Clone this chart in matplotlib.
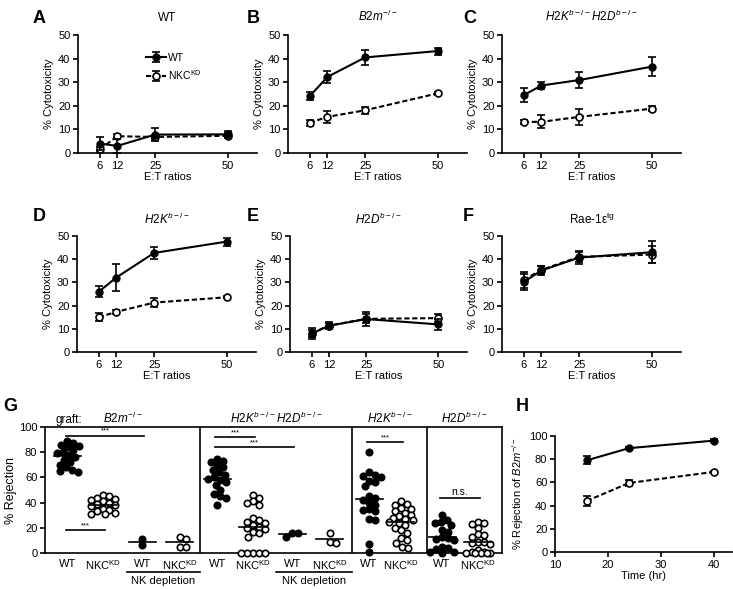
import numpy as np
import matplotlib
matplotlib.use('Agg')
import matplotlib.pyplot as plt
import matplotlib.transforms as mtransforms

plt.rcParams['font.family'] = ['Liberation Sans', 'DejaVu Sans']
plt.rcParams['mathtext.fontset'] = 'custom'
plt.rcParams['mathtext.rm'] = 'Liberation Sans'
plt.rcParams['mathtext.it'] = 'Liberation Sans:italic'
plt.rcParams['mathtext.bf'] = 'Liberation Sans:bold'
plt.rcParams['axes.linewidth'] = 1.2
plt.rcParams['xtick.major.width'] = 1.2
plt.rcParams['ytick.major.width'] = 1.2
plt.rcParams['xtick.major.size'] = 3.5
plt.rcParams['ytick.major.size'] = 3.5
plt.rcParams['xtick.labelsize'] = 8
plt.rcParams['ytick.labelsize'] = 8

# ---------- cytotoxicity data (A-F), mean +/- SEM ----------
et_ratios = [6, 12, 25, 50]

wt_a = [4.0, 3.0, 7.8, 7.9]
wt_a_err = [2.8, 3.0, 2.6, 1.6]
nkc_a = [1.6, 7.1, 6.8, 7.3]
nkc_a_err = [1.0, 0.8, 1.0, 1.0]

wt_b = [24.1, 32.2, 40.5, 43.2]
wt_b_err = [1.7, 2.7, 3.3, 1.5]
nkc_b = [12.8, 15.3, 18.1, 25.3]
nkc_b_err = [1.3, 2.5, 1.5, 0.7]

wt_c = [24.5, 28.6, 30.9, 36.6]
wt_c_err = [3.0, 1.5, 3.4, 4.0]
nkc_c = [13.2, 13.2, 15.3, 18.8]
nkc_c_err = [0.8, 2.8, 3.5, 1.2]

wt_d = [26.0, 32.1, 42.7, 47.6]
wt_d_err = [2.3, 6.0, 2.7, 1.7]
nkc_d = [15.0, 17.3, 21.3, 23.6]
nkc_d_err = [1.7, 1.0, 2.0, 0.5]

wt_e = [7.9, 11.3, 14.2, 11.9]
wt_e_err = [2.3, 1.5, 3.2, 2.3]
nkc_e = [8.0, 11.4, 14.3, 14.6]
nkc_e_err = [1.5, 1.2, 2.0, 1.8]

wt_f = [30.2, 35.1, 40.7, 43.0]
wt_f_err = [3.5, 2.0, 2.8, 4.7]
nkc_f = [31.0, 35.4, 41.0, 42.0]
nkc_f_err = [3.5, 1.5, 2.0, 3.5]

titles_af = ['WT', r'$\mathit{B2m}^{\mathit{-/-}}$',
             r'$\mathit{H2K}^{\mathit{b-/-}}\mathit{H2D}^{\mathit{b-/-}}$',
             r'$\mathit{H2K}^{\mathit{b-/-}}$', r'$\mathit{H2D}^{\mathit{b-/-}}$',
             r'Rae-1ε$^{\mathrm{tg}}$']

# ---------- in vivo rejection (G), % per mouse ----------
g_b2m_wt = [89, 87, 86, 85, 84, 82, 80, 79, 78, 76, 74, 72, 70, 68, 66, 65, 64]
g_b2m_nkc = [46, 45, 44, 43, 42, 41, 40, 39, 38, 37, 35, 34, 33, 32, 31, 31]
g_b2m_wt_nkdep = [11, 6]
g_b2m_nkc_nkdep = [13, 11, 5, 5]
g_kd_wt = [75, 73, 72, 70, 68, 66, 64, 62, 60, 59, 58, 56, 54, 50, 47, 45, 44, 38]
g_kd_nkc = [46, 44, 41, 40, 38, 28, 26, 25, 24, 22, 21, 20, 19, 17, 16, 13, 0, 0, 0, 0, 0]
g_kd_wt_nkdep = [16, 13, 16]
g_kd_nkc_nkdep = [16, 9, 8]
g_k_wt = [80, 64, 62, 61, 60, 57, 56, 53, 45, 44, 42, 40, 38, 35, 34, 33, 27, 26, 7, 1]
g_k_nkc = [41, 39, 38, 36, 35, 33, 32, 30, 29, 28, 27, 26, 25, 24, 22, 20, 18, 16, 12, 10, 8, 5, 4]
g_d_wt = [30, 26, 25, 24, 22, 18, 17, 13, 12, 11, 10, 5, 4, 3, 1, 1, 0]
g_d_nkc = [25, 24, 23, 20, 15, 14, 13, 9, 9, 8, 7, 2, 1, 1, 0, 0, 0, 0, 0]

g_groups = [g_b2m_wt, g_b2m_nkc, g_b2m_wt_nkdep, g_b2m_nkc_nkdep,
            g_kd_wt, g_kd_nkc, g_kd_wt_nkdep, g_kd_nkc_nkdep,
            g_k_wt, g_k_nkc, g_d_wt, g_d_nkc]
g_filled = [True, False] * 6
g_ticklabels = ['WT', r'NKC$^{\mathrm{KD}}$'] * 6
g_section_titles = [r'$\mathit{B2m}^{\mathit{-/-}}$',
                    r'$\mathit{H2K}^{\mathit{b-/-}}\mathit{H2D}^{\mathit{b-/-}}$',
                    r'$\mathit{H2K}^{\mathit{b-/-}}$', r'$\mathit{H2D}^{\mathit{b-/-}}$']
# (group from, group to, height, label)
g_sig = [(0, 2, 93, '***'), (0, 1, 18, '***'), (4, 5, 92, '***'),
         (4, 6, 84, '***'), (8, 9, 88, '***'), (10, 11, 44, 'n.s.')]

# ---------- rejection over time (H) ----------
h_time = [16, 24, 40]
h_wt = [79, 89.5, 96]
h_wt_err = [3.5, 1.0, 1.0]
h_nkc = [44, 59.5, 69]
h_nkc_err = [4.5, 3.0, 1.0]


fig = plt.figure(figsize=(7.33, 5.89), dpi=100)
W, H = 733.0, 589.0


def add_ax(x0, y0, x1, y1):
    return fig.add_axes([x0 / W, 1 - y1 / H, (x1 - x0) / W, (y1 - y0) / H])


def prism(ax):
    ax.spines['top'].set_visible(False)
    ax.spines['right'].set_visible(False)
    ax.tick_params(direction='out', pad=2)


def curves(ax, x, wt, wt_err, nkc, nkc_err):
    ax.errorbar(x, nkc, yerr=nkc_err, color='k', lw=1.5, ls=(0, (2.5, 1.3)),
                marker='o', ms=5, mfc='white', mec='k', mew=1.2,
                capsize=3, elinewidth=1.2, capthick=1.2, clip_on=False,
                zorder=3, label=r'NKC$^{\mathrm{KD}}$')
    ax.errorbar(x, wt, yerr=wt_err, color='k', lw=1.5, ls='-',
                marker='o', ms=5, mfc='k', mec='k',
                capsize=3, elinewidth=1.2, capthick=1.2, clip_on=False,
                zorder=4, label='WT')


series_af = [(wt_a, wt_a_err, nkc_a, nkc_a_err), (wt_b, wt_b_err, nkc_b, nkc_b_err),
             (wt_c, wt_c_err, nkc_c, nkc_c_err), (wt_d, wt_d_err, nkc_d, nkc_d_err),
             (wt_e, wt_e_err, nkc_e, nkc_e_err), (wt_f, wt_f_err, nkc_f, nkc_f_err)]
boxes_af = [(78, 35, 257, 153), (288, 35, 467, 153), (502, 35, 681, 153),
            (77, 236, 256, 352), (290, 236, 467, 352), (502, 236, 681, 352)]

for i, (s, b) in enumerate(zip(series_af, boxes_af)):
    ax = add_ax(*b)
    prism(ax)
    curves(ax, et_ratios, *s)
    ax.set_xlim(-1.5, 60)
    ax.set_ylim(0, 50)
    ax.set_xticks(et_ratios)
    ax.set_yticks(range(0, 51, 10))
    ax.set_title(titles_af[i], fontsize=8.5, pad=10 if i < 3 else 9)
    ax.set_xlabel('E:T ratios', fontsize=8, labelpad=1)
    ax.set_ylabel('% Cytotoxicity', fontsize=8, labelpad=3)
    if i == 0:
        h, l = ax.get_legend_handles_labels()
        ax.legend(h[::-1], l[::-1], loc='upper left', bbox_to_anchor=(0.33, 0.93),
                  frameon=False, fontsize=7.5, handlelength=1.9,
                  handletextpad=0.2, labelspacing=0.5)


# ---------- panel G ----------
g_pos = [0.6, 1.55, 2.6, 3.6, 4.6, 5.55, 6.6, 7.6, 8.65, 9.5, 10.6, 11.55]
g_seps = [0, 4.15, 8.2, 10.2, 12.2]
axg = add_ax(45, 427, 502, 553)
axg.set_xlim(g_seps[0], g_seps[-1])
axg.set_ylim(0, 100)
x_px = 457 / (g_seps[-1] - g_seps[0])
y_px = 126 / 100.0


def swarm(vals, d=6.0, max_px=13.0):
    # simple beeswarm: put each point at the closest free spot, within max_px
    vals = np.asarray(vals, float)
    offs = np.zeros(len(vals))
    placed = []
    cands = [0.0]
    k = 1
    while k * 1.5 <= max_px:
        cands += [k * 1.5, -k * 1.5]
        k += 1
    for i in np.argsort(-vals):
        y = vals[i] * y_px
        best, best_gap = 0.0, -1.0
        for c in cands:
            gap = min([(c - px) ** 2 + (y - py) ** 2 for px, py in placed] or [1e9])
            if gap >= d * d:
                best = c
                break
            if gap > best_gap:
                best, best_gap = c, gap
        placed.append((best, y))
        offs[i] = best / x_px
    return offs


for p, vals, filled in zip(g_pos, g_groups, g_filled):
    xs = p + swarm(vals)
    axg.plot(xs, vals, 'o', ms=4.6, mfc='k' if filled else 'white', mec='k',
             mew=1.2, clip_on=False, zorder=3)
    m = np.mean(vals)
    axg.plot([p - 0.36, p + 0.36], [m, m], color='k', lw=1.2, zorder=4)

for s in g_seps[1:-1]:
    axg.axvline(s, color='k', lw=1.2)

for g1, g2, yv, lab in g_sig:
    axg.plot([g_pos[g1] - 0.05, g_pos[g2] + 0.05], [yv, yv], color='k', lw=1.2)
    axg.text((g_pos[g1] + g_pos[g2]) / 2, yv + 0.8, lab, ha='center', va='bottom',
             fontsize=5.5 if lab != 'n.s.' else 7.5)

axg.set_xticks(g_pos)
axg.set_xticklabels(g_ticklabels, fontsize=8)
axg.tick_params(axis='x', length=0, pad=4)
axg.tick_params(axis='y', direction='out', pad=2)
axg.set_yticks(range(0, 101, 20))
axg.set_ylabel('% Rejection', fontsize=9, labelpad=1)

trans = mtransforms.blended_transform_factory(axg.transData, axg.transAxes)
for k, t in enumerate(g_section_titles):
    cx = (g_seps[k] + g_seps[k + 1]) / 2
    axg.text(cx, 1.01, t, transform=trans, ha='center', va='bottom', fontsize=8.5)
axg.text(0.022, 1.01, 'graft:', transform=axg.transAxes, ha='left', va='bottom',
         fontsize=8.5)
for a, b in [(g_pos[2] - 0.42, g_seps[1]), (g_pos[6] - 0.42, g_seps[2])]:
    axg.plot([a, b], [-0.15, -0.15], transform=trans, color='k', lw=1.2, clip_on=False)
    axg.text((a + b) / 2, -0.18, 'NK depletion', transform=trans, ha='center',
             va='top', fontsize=8)

# ---------- panel H ----------
axh = add_ax(555, 436, 732, 552)
prism(axh)
curves(axh, h_time, h_wt, h_wt_err, h_nkc, h_nkc_err)
axh.set_xlim(10, 43.5)
axh.set_ylim(0, 100)
axh.set_xticks([10, 20, 30, 40])
axh.set_yticks(range(0, 101, 20))
axh.set_xlabel('Time (hr)', fontsize=8, labelpad=1)
axh.set_ylabel(r'% Rejection of $\mathit{B2m}^{\mathit{-/-}}$', fontsize=8, labelpad=2)

# panel letters
letters = [('A', 33, 10), ('B', 247, 10), ('C', 463, 10),
           ('D', 33, 208), ('E', 247, 208), ('F', 463, 208),
           ('G', 3, 398), ('H', 516, 398)]
for t, x, y in letters:
    fig.text(x / W, 1 - y / H, t, fontsize=13, fontweight='bold', va='top', ha='left')

fig.savefig('out.png', dpi=100)
